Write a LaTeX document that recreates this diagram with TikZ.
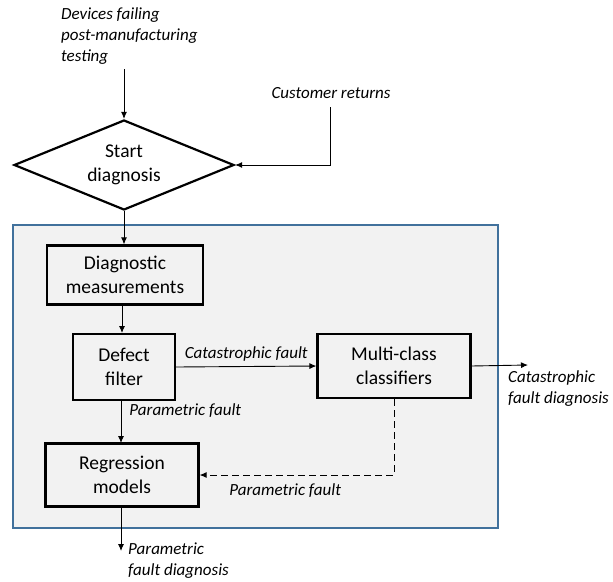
\documentclass[tikz,border=0pt]{standalone}
\usepackage{fontspec}
\setmainfont{Carlito}
\usetikzlibrary{shapes.geometric,arrows.meta}
\definecolor{frameblue}{HTML}{41719C}
\begin{document}
\begin{tikzpicture}[x=1pt,y=-1pt]
    \tikzset{% styles for the flow chart
    blk/.style={rectangle,draw=black,line width=2.2pt,fill=black!5,align=center,
        font=\fontsize{19.5}{23.5}\selectfont,inner sep=0pt},
    dec/.style={diamond,draw=black,line width=2.2pt,fill=white,align=center,
        font=\fontsize{19.5}{23.5}\selectfont,inner sep=0pt,aspect=2.4,
        minimum width=220pt,minimum height=90pt},
    lbl/.style={align=left,font=\fontsize{17}{21}\selectfont\itshape,inner sep=0pt},
    ln/.style={-{Latex[length=7pt,width=6pt]},line width=0.9pt},
    dsh/.style={ln,dash pattern=on 7pt off 4pt},
    }
    \useasboundingbox (0,0) rectangle (613,581);
    % Frame
    \draw[frameblue,line width=1.8pt,fill=black!5] (13,225) rectangle (498,528);

    % Nodes
    \node[dec] (start) at (124,165) {Start\\diagnosis};
    \node[blk,minimum width=156pt,minimum height=59pt] (diag) at (125,275) {Diagnostic\\measurements};
    \node[blk,minimum width=102pt,minimum height=66pt] (defect) at (124,367) {Defect\\filter};
    \node[blk,minimum width=153pt,minimum height=64pt] (multi) at (394,366) {Multi-class\\classifiers};
    \node[blk,minimum width=153pt,minimum height=63pt] (regr) at (122,475) {Regression\\models};

    % Texts
    \node[lbl,anchor=west] (devices) at (61,36) {Devices failing\\post-manufacturing\\testing};
    \node[lbl] (cust) at (331,93) {Customer returns};
    \node[lbl,anchor=west] (catdiag) at (508,389) {Catastrophic\\fault diagnosis};
    \node[lbl,anchor=west] (pardiag) at (128,561) {Parametric\\fault diagnosis};

    % Free ends
    \coordinate (in1) at (124,69);
    \coordinate (in2) at (330,107);
    \coordinate (out1) at (528,365);
    \coordinate (out2) at (121,551);

    %Edges
    \draw[ln] (in1) -- (start.north);
    \draw[ln] (in2) |- (start.east);
    \draw[ln] (start.south) -- (start.south |- diag.north);
    \draw[ln] (122,305) -- (122,333);
    \draw[ln] (defect.east) -- node[lbl,above=5pt] {Catastrophic fault} (multi.west);
    \draw[ln] (multi.east) -- (out1);
    \draw[ln] (121,400) -- node[lbl,right=8pt,pos=0.25] {Parametric fault} (121,443);
    \draw[dsh] (multi.south) |- node[lbl,below=8pt,pos=0.78] {Parametric fault} (regr.east);
    \draw[ln] (121,507) -- (out2);

\end{tikzpicture}
\end{document}
